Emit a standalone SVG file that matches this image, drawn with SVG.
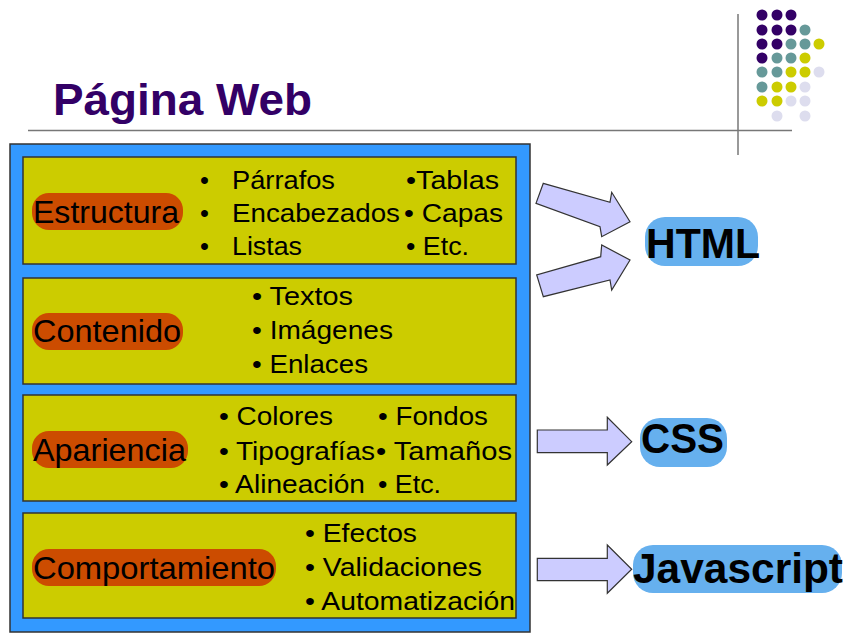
<svg xmlns="http://www.w3.org/2000/svg" width="848" height="636" viewBox="0 0 848 636">
<style>
.dp{fill:#330066}.tl{fill:#669999}.yl{fill:#CCCC00}.lv{fill:#DDDDEE}
.panel{fill:#CCCC00;stroke:#333333;stroke-width:1.5}
.pill{fill:#CC4C00}
.lbl{font-family:"Liberation Sans",Arial,sans-serif;font-size:32px;fill:#000}
.itm{font-family:"Liberation Sans",Arial,sans-serif;font-size:25.5px;fill:#000}
.bp{fill:#66B0EE}
.big{font-family:"Liberation Sans",Arial,sans-serif;font-size:42px;font-weight:bold;fill:#000}
.arr{fill:#CCCCFF;stroke:#333333;stroke-width:1.2;stroke-linejoin:miter}
.rule{stroke:#777777;stroke-width:1.5;fill:none}
</style>

<g id="decor">
<line class="rule" x1="28" y1="130.5" x2="792" y2="130.5"/>
<line class="rule" x1="738" y1="14" x2="738" y2="155"/>
<g>
<circle class="dp" cx="762" cy="15" r="5.5"/><circle class="dp" cx="777" cy="15" r="5.5"/><circle class="dp" cx="791" cy="15" r="5.5"/>
<circle class="dp" cx="762" cy="30" r="5.5"/><circle class="dp" cx="777" cy="30" r="5.5"/><circle class="dp" cx="791" cy="30" r="5.5"/><circle class="tl" cx="805" cy="30" r="5.5"/>
<circle class="dp" cx="762" cy="44" r="5.5"/><circle class="dp" cx="777" cy="44" r="5.5"/><circle class="tl" cx="791" cy="44" r="5.5"/><circle class="tl" cx="805" cy="44" r="5.5"/><circle class="yl" cx="819" cy="44" r="5.5"/>
<circle class="dp" cx="762" cy="58" r="5.5"/><circle class="tl" cx="777" cy="58" r="5.5"/><circle class="tl" cx="791" cy="58" r="5.5"/><circle class="yl" cx="805" cy="58" r="5.5"/>
<circle class="tl" cx="762" cy="72" r="5.5"/><circle class="tl" cx="777" cy="72" r="5.5"/><circle class="yl" cx="791" cy="72" r="5.5"/><circle class="yl" cx="805" cy="72" r="5.5"/><circle class="lv" cx="819" cy="72" r="5.5"/>
<circle class="tl" cx="762" cy="87" r="5.5"/><circle class="yl" cx="777" cy="87" r="5.5"/><circle class="yl" cx="791" cy="87" r="5.5"/><circle class="lv" cx="805" cy="87" r="5.5"/>
<circle class="yl" cx="762" cy="101" r="5.5"/><circle class="yl" cx="777" cy="101" r="5.5"/><circle class="lv" cx="791" cy="101" r="5.5"/><circle class="lv" cx="805" cy="101" r="5.5"/>
<circle class="lv" cx="777" cy="116" r="5.5"/><circle class="lv" cx="805" cy="116" r="5.5"/>
</g>
</g>

<g id="title">
<text x="53" y="115" font-family="Liberation Sans,Arial,sans-serif" font-size="44" font-weight="bold" fill="#330066" textLength="259" lengthAdjust="spacingAndGlyphs">Página Web</text>
</g>

<g id="pagina">
<rect x="10" y="144" width="520" height="488" fill="#3399FF" stroke="#333333" stroke-width="1.5"/>
</g>

<g id="estructura">
<rect class="panel" x="23" y="157" width="493" height="107"/>
<rect class="pill" x="32" y="193" width="151" height="37" rx="17"/>
<text class="lbl" x="33" y="223" textLength="146" lengthAdjust="spacingAndGlyphs">Estructura</text>
<text class="itm" x="200" y="189">•</text><text class="itm" x="232" y="189" textLength="103" lengthAdjust="spacingAndGlyphs">Párrafos</text>
<text class="itm" x="200" y="222">•</text><text class="itm" x="232" y="222" textLength="168" lengthAdjust="spacingAndGlyphs">Encabezados</text>
<text class="itm" x="200" y="255">•</text><text class="itm" x="232" y="255" textLength="70" lengthAdjust="spacingAndGlyphs">Listas</text>
<text class="itm" x="406" y="189" textLength="93" lengthAdjust="spacingAndGlyphs">•Tablas</text>
<text class="itm" x="404" y="222" textLength="99" lengthAdjust="spacingAndGlyphs">• Capas</text>
<text class="itm" x="406" y="255" textLength="63" lengthAdjust="spacingAndGlyphs">• Etc.</text>
</g>

<g id="contenido">
<rect class="panel" x="23" y="278" width="493" height="106"/>
<rect class="pill" x="32" y="313" width="151" height="37" rx="17"/>
<text class="lbl" x="33" y="342" textLength="148" lengthAdjust="spacingAndGlyphs">Contenido</text>
<text class="itm" x="252" y="305" textLength="101" lengthAdjust="spacingAndGlyphs">• Textos</text>
<text class="itm" x="252" y="339" textLength="141" lengthAdjust="spacingAndGlyphs">• Imágenes</text>
<text class="itm" x="252" y="373" textLength="116" lengthAdjust="spacingAndGlyphs">• Enlaces</text>
</g>

<g id="apariencia">
<rect class="panel" x="23" y="395" width="493" height="106"/>
<rect class="pill" x="32" y="431" width="156" height="37" rx="17"/>
<text class="lbl" x="33" y="461" textLength="153" lengthAdjust="spacingAndGlyphs">Apariencia</text>
<text class="itm" x="219" y="425" textLength="114" lengthAdjust="spacingAndGlyphs">• Colores</text>
<text class="itm" x="219" y="460" textLength="156" lengthAdjust="spacingAndGlyphs">• Tipografías</text>
<text class="itm" x="219" y="493" textLength="146" lengthAdjust="spacingAndGlyphs">• Alineación</text>
<text class="itm" x="378" y="425" textLength="110" lengthAdjust="spacingAndGlyphs">• Fondos</text>
<text class="itm" x="376" y="460" textLength="136" lengthAdjust="spacingAndGlyphs">• Tamaños</text>
<text class="itm" x="378" y="493" textLength="63" lengthAdjust="spacingAndGlyphs">• Etc.</text>
</g>

<g id="comportamiento">
<rect class="panel" x="23" y="513" width="493" height="105"/>
<rect class="pill" x="32" y="549" width="244" height="37" rx="17"/>
<text class="lbl" x="33" y="579" textLength="242" lengthAdjust="spacingAndGlyphs">Comportamiento</text>
<text class="itm" x="305" y="542" textLength="112" lengthAdjust="spacingAndGlyphs">• Efectos</text>
<text class="itm" x="305" y="576" textLength="177" lengthAdjust="spacingAndGlyphs">• Validaciones</text>
<text class="itm" x="305" y="610" textLength="210" lengthAdjust="spacingAndGlyphs">• Automatización</text>
</g>

<g id="html">
<rect class="bp" x="645" y="217" width="113" height="49" rx="20"/>
<text class="big" x="646" y="258" textLength="114" lengthAdjust="spacingAndGlyphs">HTML</text>
</g>

<g id="css">
<rect class="bp" x="640" y="418" width="87" height="49" rx="20"/>
<text class="big" x="641" y="453" textLength="83" lengthAdjust="spacingAndGlyphs">CSS</text>
</g>

<g id="javascript">
<rect class="bp" x="633" y="545" width="209" height="48" rx="20"/>
<text class="big" x="633" y="583" textLength="210" lengthAdjust="spacingAndGlyphs">Javascript</text>
</g>

<g id="connectors">
<polygon class="arr" points="543.3,183.3 610,202.3 611.7,192.3 630,221.7 601.7,236.7 600,226.7 536,203.3"/>
<polygon class="arr" points="543.3,296.7 536.7,275 600.7,256.7 601.7,245 630,260 611.7,290 610,280"/>
<polygon class="arr" points="537.3,430 607.3,430 607.3,417.3 631.7,441.7 607.3,465 607.3,452.7 537.3,452.7"/>
<polygon class="arr" points="537.3,558.3 607.3,558.3 607.3,545 631.7,569.3 607.3,593.3 607.3,580.7 537.3,580.7"/>
</g>
</svg>
